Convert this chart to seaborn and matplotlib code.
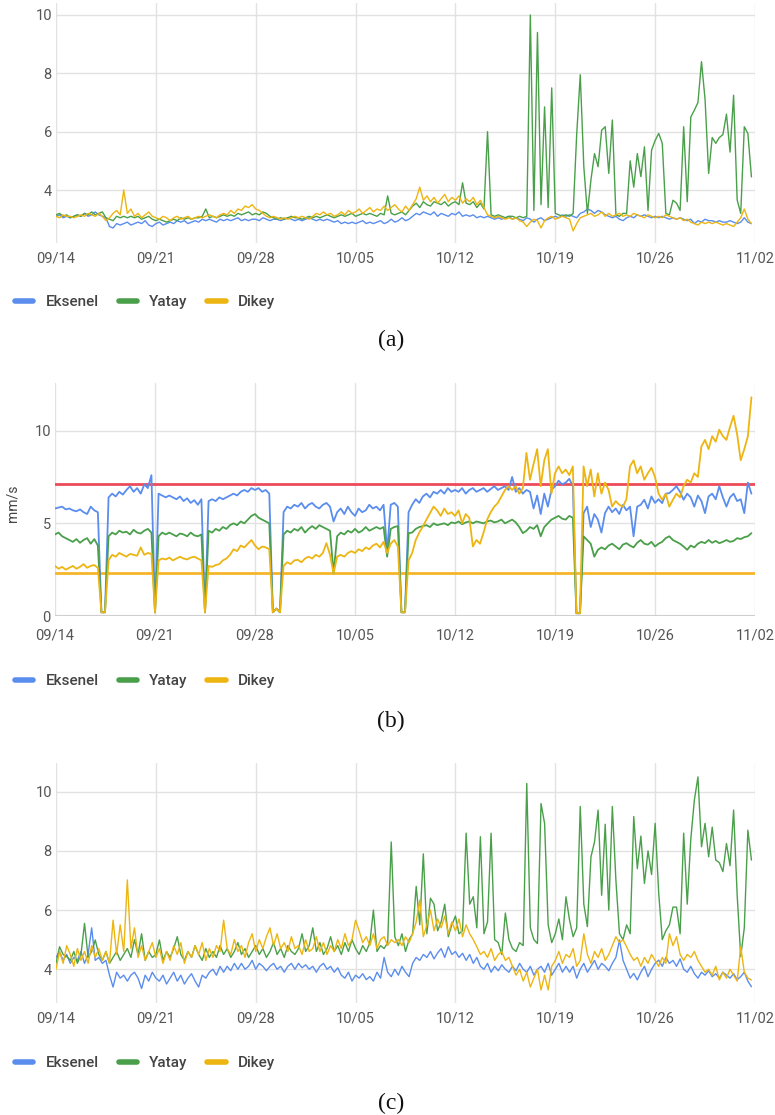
import pandas as pd
import matplotlib
matplotlib.use('Agg')
import matplotlib.pyplot as plt
import matplotlib.dates as mdates
from matplotlib.lines import Line2D
import seaborn as sns

# ---------------- data ----------------
START = '2022-09-14'
END = '2022-11-02'
N_POINTS = 196          # 4 readings per day (every 6 h)
STEP = '6h'
SERIES = ['Eksenel', 'Yatay', 'Dikey']
COLORS = ['#5A8DEE', '#4AA04A', '#EDB512']
CAPTIONS = ['(a)', '(b)', '(c)']
Y_UNIT = 'mm/s'
B_UPPER_LIMIT = 7.1
B_LOWER_LIMIT = 2.3

A_EKSENEL = [
    3.10, 3.15, 3.05, 3.10, 3.05, 3.10, 3.15, 3.10,
    3.20, 3.10, 3.15, 3.25, 3.15, 3.10, 3.05, 2.75,
    2.70, 2.85, 2.80, 2.85, 2.90, 2.80, 2.85, 2.90,
    2.85, 2.95, 2.80, 2.75, 2.85, 2.90, 2.80, 2.85,
    2.90, 2.85, 2.95, 2.90, 2.95, 2.85, 2.90, 2.95,
    2.90, 3.00, 2.95, 3.00, 2.95, 2.90, 3.00, 2.95,
    3.00, 2.95, 3.00, 3.05, 2.95, 3.00, 2.95, 3.00,
    3.00, 2.95, 3.05, 3.00, 2.95, 3.00, 3.00, 2.95,
    3.00, 3.05, 3.00, 2.95, 3.00, 2.95, 3.00, 3.05,
    3.00, 2.95, 3.00, 2.95, 3.00, 2.95, 2.90, 2.95,
    2.85, 2.90, 2.85, 2.90, 2.85, 2.90, 2.95, 2.85,
    2.90, 2.85, 2.90, 2.95, 2.85, 2.90, 3.00, 2.90,
    2.95, 3.05, 2.95, 3.00, 3.10, 3.20, 3.15, 3.25,
    3.20, 3.15, 3.25, 3.10, 3.20, 3.15, 3.10, 3.20,
    3.15, 3.25, 3.10, 3.15, 3.10, 3.15, 3.05, 3.10,
    3.05, 3.10, 3.05, 3.00, 3.05, 3.00, 3.05, 3.10,
    3.00, 3.05, 3.00, 2.95, 3.05, 3.00, 2.90, 3.00,
    3.05, 2.95, 3.00, 3.05, 3.10, 3.05, 3.15, 3.10,
    3.15, 3.10, 3.05, 3.20, 3.25, 3.35, 3.30, 3.20,
    3.30, 3.25, 3.15, 3.10, 3.05, 3.10, 3.00, 2.95,
    3.05, 3.10, 3.05, 3.15, 3.10, 3.15, 3.10, 3.05,
    3.10, 3.05, 3.10, 3.05, 3.00, 3.05, 3.00, 3.05,
    3.00, 2.95, 3.00, 2.85, 2.95, 2.90, 3.00, 2.95,
    2.95, 2.90, 2.95, 2.90, 2.90, 2.95, 2.90, 2.85,
    2.90, 3.05, 2.90, 2.85,
]
A_YATAY = [
    3.15, 3.20, 3.10, 3.15, 3.05, 3.10, 3.15, 3.10,
    3.20, 3.15, 3.25, 3.15, 3.20, 3.25, 3.05, 3.00,
    2.95, 3.10, 3.05, 3.10, 3.05, 3.10, 3.05, 3.10,
    3.00, 3.05, 3.10, 3.00, 2.95, 3.00, 2.95, 2.90,
    2.95, 3.00, 2.95, 3.05, 3.00, 3.05, 3.00, 3.05,
    3.05, 3.10, 3.35, 3.05, 3.10, 3.05, 3.10, 3.15,
    3.10, 3.15, 3.10, 3.20, 3.15, 3.20, 3.25, 3.15,
    3.20, 3.15, 3.25, 3.20, 3.10, 3.05, 3.00, 3.05,
    3.00, 3.05, 3.10, 3.05, 3.05, 3.00, 3.05, 3.10,
    3.05, 3.10, 3.05, 3.10, 3.15, 3.10, 3.05, 3.10,
    3.15, 3.10, 3.15, 3.20, 3.10, 3.15, 3.20, 3.15,
    3.20, 3.15, 3.10, 3.20, 3.15, 3.80, 3.20, 3.15,
    3.20, 3.25, 3.15, 3.30, 3.45, 3.55, 3.40, 3.60,
    3.50, 3.45, 3.60, 3.55, 3.50, 3.60, 3.45, 3.55,
    3.60, 3.50, 4.25, 3.55, 3.50, 3.60, 3.40, 3.55,
    3.35, 6.00, 3.15, 3.10, 3.15, 3.10, 3.05, 3.10,
    3.10, 3.05, 3.10, 3.05, 3.10, 10.00, 3.30, 9.40,
    3.50, 6.85, 3.40, 7.50, 3.20, 3.15, 3.10, 3.15,
    3.10, 3.20, 5.90, 7.95, 4.80, 3.20, 4.35, 5.25,
    4.80, 6.05, 6.17, 4.57, 6.40, 3.15, 3.10, 3.20,
    3.20, 5.00, 4.10, 5.25, 4.46, 5.48, 3.30, 5.37,
    5.70, 5.94, 5.60, 3.20, 3.15, 3.65, 3.55, 3.30,
    6.17, 3.60, 6.50, 6.74, 7.00, 8.40, 7.10, 4.57,
    5.80, 5.60, 5.80, 5.90, 6.60, 5.30, 7.25, 3.66,
    3.20, 6.17, 5.94, 4.45,
]
A_DIKEY = [
    3.10, 3.05, 3.15, 3.10, 3.10, 3.05, 3.10, 3.15,
    3.10, 3.20, 3.15, 3.10, 3.20, 3.10, 2.95, 3.05,
    3.20, 3.30, 3.15, 4.00, 3.20, 3.35, 3.10, 3.20,
    3.05, 3.15, 3.25, 3.10, 3.05, 3.00, 3.10, 3.05,
    2.95, 3.05, 3.10, 3.00, 3.05, 3.10, 3.00, 3.05,
    3.10, 3.05, 3.10, 3.15, 3.10, 3.05, 3.15, 3.20,
    3.15, 3.30, 3.20, 3.35, 3.30, 3.45, 3.40, 3.50,
    3.35, 3.30, 3.20, 3.10, 3.05, 3.10, 3.05, 3.00,
    3.05, 3.00, 3.05, 3.10, 3.05, 3.10, 3.05, 3.00,
    3.10, 3.20, 3.15, 3.25, 3.15, 3.20, 3.10, 3.15,
    3.25, 3.15, 3.30, 3.20, 3.25, 3.35, 3.20, 3.30,
    3.40, 3.25, 3.35, 3.30, 3.45, 3.30, 3.40, 3.50,
    3.35, 3.25, 3.45, 3.30, 3.50, 3.70, 4.10, 3.65,
    3.80, 3.60, 3.75, 3.55, 3.70, 3.85, 3.60, 3.75,
    3.65, 3.80, 3.55, 3.70, 3.60, 3.75, 3.50, 3.65,
    3.40, 3.15, 3.10, 3.05, 3.10, 3.05, 3.00, 3.05,
    3.00, 3.05, 2.95, 2.90, 2.75, 2.90, 3.00, 2.95,
    2.70, 2.95, 3.05, 3.10, 3.00, 3.05, 3.10, 3.05,
    3.00, 2.60, 2.85, 3.05, 3.10, 3.15, 3.20, 3.10,
    3.15, 3.25, 3.10, 3.20, 3.10, 3.15, 3.20, 3.10,
    3.15, 3.10, 3.20, 3.15, 3.10, 3.05, 3.15, 3.10,
    3.05, 3.10, 3.05, 3.15, 3.10, 3.05, 3.00, 3.05,
    2.95, 3.00, 2.90, 2.85, 2.80, 2.90, 2.85, 2.90,
    2.85, 2.90, 2.85, 2.80, 2.85, 2.80, 2.75, 2.90,
    3.05, 3.35, 3.00, 2.85,
]

B_EKSENEL = [
    5.80, 5.85, 5.90, 5.75, 5.80, 5.70, 5.65, 5.75,
    5.60, 5.50, 5.90, 5.70, 5.60, 0.20, 0.20, 6.40,
    6.60, 6.45, 6.70, 6.55, 6.80, 7.00, 6.70, 6.90,
    6.60, 7.10, 6.90, 7.60, 0.20, 6.60, 6.50, 6.40,
    6.50, 6.40, 6.30, 6.45, 6.20, 6.35, 6.10, 6.25,
    6.00, 6.30, 0.20, 6.20, 6.30, 6.20, 6.40, 6.30,
    6.40, 6.50, 6.60, 6.50, 6.70, 6.80, 6.70, 6.90,
    6.80, 6.90, 6.70, 6.80, 6.60, 0.20, 0.40, 0.20,
    5.60, 5.90, 5.80, 6.00, 5.90, 6.10, 5.80, 6.00,
    6.10, 5.90, 5.80, 6.00, 6.10, 5.90, 5.10, 5.60,
    5.80, 5.50, 5.90, 5.60, 5.40, 5.80, 5.60, 5.70,
    6.00, 5.80, 5.90, 5.70, 6.00, 3.50, 6.00, 6.10,
    5.90, 0.20, 0.20, 5.60, 6.00, 6.30, 6.10, 6.45,
    6.60, 6.40, 6.70, 6.60, 6.80, 6.60, 6.90, 6.70,
    6.80, 6.70, 6.90, 6.60, 6.80, 6.90, 6.70, 6.80,
    6.90, 6.70, 6.85, 7.00, 6.80, 6.90, 7.00, 6.80,
    7.50, 6.70, 6.90, 6.60, 6.80, 6.70, 5.80, 6.50,
    5.50, 6.60, 5.90, 6.80, 7.00, 7.30, 7.10, 7.20,
    7.40, 7.00, 0.15, 0.15, 5.55, 5.90, 4.80, 5.50,
    5.20, 4.50, 5.55, 5.90, 5.60, 5.80, 5.50, 6.00,
    5.70, 5.90, 4.30, 5.90, 6.00, 6.27, 5.80, 6.45,
    6.10, 6.30, 6.09, 6.60, 6.63, 6.80, 7.00, 6.70,
    6.27, 6.60, 6.40, 5.90, 6.50, 6.20, 5.55, 6.45,
    6.60, 6.30, 7.00, 6.40, 5.90, 6.40, 6.60, 6.20,
    6.30, 5.55, 7.20, 6.60,
]
B_YATAY = [
    4.40, 4.50, 4.30, 4.20, 4.10, 4.00, 4.15, 3.95,
    4.10, 4.20, 3.90, 4.15, 3.80, 0.20, 0.20, 4.30,
    4.50, 4.40, 4.60, 4.50, 4.55, 4.40, 4.65, 4.50,
    4.45, 4.60, 4.70, 4.50, 0.20, 4.30, 4.50, 4.40,
    4.50, 4.40, 4.30, 4.45, 4.40, 4.30, 4.50, 4.35,
    4.30, 4.40, 0.20, 4.60, 4.50, 4.70, 4.60, 4.80,
    4.70, 4.90, 5.00, 4.90, 5.10, 5.00, 5.20, 5.40,
    5.50, 5.30, 5.20, 5.10, 5.00, 0.20, 0.40, 0.20,
    4.40, 4.60, 4.50, 4.70, 4.60, 4.80, 4.50, 4.70,
    4.85, 4.70, 4.90, 4.80, 4.70, 4.60, 2.30, 4.30,
    4.50, 4.40, 4.60, 4.50, 4.70, 4.50, 4.60, 4.80,
    4.60, 4.70, 4.80, 4.70, 4.80, 3.20, 4.70, 4.80,
    4.85, 0.20, 0.20, 4.47, 4.50, 4.70, 4.80, 4.85,
    4.90, 4.80, 5.00, 4.90, 4.95, 5.00, 4.90, 5.05,
    5.00, 5.10, 4.95, 5.05, 5.10, 5.00, 5.10, 5.05,
    5.00, 5.10, 5.15, 5.05, 5.10, 5.20, 5.00, 5.10,
    5.20, 5.05, 4.80, 4.47, 4.60, 4.80, 4.70, 4.90,
    4.30, 4.80, 5.00, 5.20, 5.30, 5.40, 5.25, 5.20,
    5.40, 5.30, 0.15, 0.15, 4.30, 4.10, 3.90, 3.20,
    3.57, 3.70, 3.60, 3.80, 3.90, 3.75, 3.60, 3.85,
    3.93, 3.80, 3.70, 3.95, 4.10, 3.90, 3.85, 4.00,
    3.75, 3.90, 4.00, 4.20, 4.30, 4.10, 4.00, 3.90,
    3.75, 3.57, 3.80, 3.70, 3.90, 4.00, 3.93, 4.10,
    3.95, 4.05, 3.93, 4.00, 4.10, 4.00, 4.05, 4.20,
    4.15, 4.25, 4.30, 4.47,
]
B_DIKEY = [
    2.70, 2.55, 2.65, 2.50, 2.60, 2.70, 2.55, 2.65,
    2.80, 2.60, 2.70, 2.75, 2.60, 0.20, 0.20, 3.00,
    3.30, 3.20, 3.40, 3.30, 3.20, 3.35, 3.30, 3.25,
    3.70, 3.30, 3.40, 3.35, 0.20, 3.00, 3.10, 3.05,
    3.15, 3.00, 3.10, 3.20, 3.10, 3.05, 3.15, 3.20,
    3.10, 3.00, 0.20, 2.70, 2.65, 2.75, 2.80, 3.00,
    3.10, 3.30, 3.60, 3.50, 3.80, 3.70, 3.90, 4.10,
    3.80, 3.60, 3.75, 3.70, 3.60, 0.20, 0.40, 0.20,
    2.70, 2.90, 2.80, 3.00, 3.03, 2.90, 3.10, 3.20,
    3.10, 3.30, 3.20, 3.40, 3.93, 3.30, 2.30, 3.20,
    3.30, 3.20, 3.40, 3.50, 3.40, 3.60, 3.50, 3.70,
    3.60, 3.80, 3.90, 3.70, 4.00, 3.40, 3.90, 4.10,
    3.75, 0.20, 0.20, 3.00, 3.40, 4.10, 4.50, 4.83,
    5.20, 5.55, 5.90, 5.70, 5.40, 5.80, 5.50, 5.60,
    5.40, 5.70, 5.00, 5.50, 5.30, 3.75, 4.10, 3.90,
    4.50, 5.20, 5.60, 5.90, 6.10, 6.45, 6.80, 7.00,
    6.80, 7.00, 6.60, 6.90, 8.80, 7.35, 8.20, 9.00,
    7.00, 8.40, 9.00, 6.60, 7.70, 8.07, 7.70, 7.90,
    7.60, 8.07, 0.15, 0.15, 8.07, 7.00, 7.90, 6.45,
    7.70, 6.60, 7.20, 6.80, 5.90, 6.20, 6.00, 5.90,
    6.30, 8.07, 8.40, 7.70, 8.07, 7.35, 7.70, 8.00,
    7.50, 6.60, 6.27, 6.60, 5.90, 6.27, 6.60, 6.40,
    7.00, 7.35, 7.20, 7.70, 7.50, 9.15, 9.50, 9.00,
    9.70, 9.40, 10.05, 9.70, 9.50, 10.20, 10.80, 9.80,
    8.40, 9.00, 9.70, 11.80,
]

C_EKSENEL = [
    4.40, 4.60, 4.30, 4.50, 4.20, 4.40, 4.30, 4.60,
    4.20, 4.50, 5.40, 4.30, 4.40, 4.20, 4.30, 3.80,
    3.40, 3.90, 3.70, 3.80, 3.60, 3.80, 3.90, 3.70,
    3.35, 3.80, 3.60, 3.90, 3.70, 3.60, 3.80, 3.50,
    3.70, 3.90, 3.60, 3.80, 3.50, 3.70, 3.85, 3.60,
    3.40, 3.80, 3.70, 3.90, 4.00, 3.80, 4.10, 3.90,
    4.10, 3.95, 4.20, 4.00, 4.20, 4.00, 4.10, 4.30,
    4.00, 4.20, 4.10, 3.95, 4.10, 4.20, 4.00, 4.10,
    3.90, 4.10, 4.20, 4.00, 4.20, 4.05, 4.15, 4.00,
    4.10, 3.90, 4.10, 4.20, 4.00, 4.10, 3.90, 4.05,
    3.80, 3.70, 3.90, 3.60, 3.80, 3.70, 3.85, 3.65,
    3.75, 3.60, 3.90, 3.70, 4.40, 3.90, 3.75, 4.00,
    3.80, 4.10, 3.90, 3.75, 4.20, 4.40, 4.30, 4.50,
    4.40, 4.60, 4.35, 4.55, 4.70, 4.40, 4.76, 4.50,
    4.60, 4.40, 4.54, 4.30, 4.50, 4.20, 4.40, 4.10,
    4.00, 4.20, 3.90, 4.10, 3.95, 4.15, 4.00, 3.90,
    4.10, 3.95, 4.20, 4.00, 3.90, 4.10, 3.80, 4.00,
    4.10, 3.90, 4.20, 3.80, 4.00, 4.20, 3.90, 4.10,
    3.90, 4.10, 3.70, 4.00, 4.20, 3.90, 4.10, 4.30,
    4.00, 4.20, 4.10, 3.95, 4.20, 4.40, 4.99, 4.30,
    4.00, 3.70, 3.86, 3.64, 3.90, 4.10, 3.75, 4.00,
    4.20, 4.31, 4.10, 4.40, 4.20, 4.30, 4.10, 4.35,
    4.00, 3.90, 4.10, 3.85, 3.70, 3.90, 3.80, 3.95,
    3.75, 3.85, 3.70, 3.90, 3.80, 3.70, 3.85, 3.65,
    3.75, 3.90, 3.60, 3.41,
]
C_YATAY = [
    4.20, 4.76, 4.50, 4.43, 4.30, 4.60, 4.20, 4.50,
    5.55, 4.40, 4.60, 4.99, 4.50, 4.30, 4.60, 4.20,
    4.40, 4.60, 4.30, 4.50, 4.70, 4.40, 5.00, 4.50,
    5.20, 4.30, 4.60, 4.40, 4.50, 4.99, 4.30, 4.60,
    4.40, 4.70, 5.10, 4.50, 4.30, 4.60, 4.40, 4.80,
    4.50, 4.30, 4.70, 4.40, 4.60, 4.40, 4.80, 4.50,
    4.70, 4.40, 4.60, 4.90, 4.50, 4.70, 4.40, 4.60,
    4.80, 4.50, 4.70, 4.40, 4.60, 4.90, 4.50, 4.70,
    4.40, 4.80, 4.60, 4.50, 4.70, 5.20, 4.60, 4.80,
    5.40, 4.60, 4.90, 4.50, 4.70, 5.10, 4.60, 4.80,
    4.50, 4.90, 4.60, 5.00, 4.70, 4.50, 4.80, 4.60,
    4.90, 6.00, 4.60, 4.80, 4.70, 4.90, 8.30, 5.10,
    4.80, 5.20, 4.60, 5.00, 5.20, 6.80, 5.50, 7.90,
    5.20, 6.40, 6.20, 5.30, 5.60, 6.20, 5.10, 5.50,
    5.80, 5.20, 5.30, 8.60, 6.20, 6.45, 5.40, 8.48,
    5.20, 5.60, 8.60, 5.00, 4.90, 4.50, 5.90, 5.00,
    4.70, 4.60, 4.90, 4.80, 10.28, 5.40, 5.00, 4.87,
    9.60, 8.93, 5.50, 4.90, 5.20, 5.70, 5.00, 6.45,
    5.66, 5.10, 5.40, 9.50, 6.20, 5.44, 7.80, 8.30,
    9.38, 6.50, 8.90, 6.00, 9.50, 7.00, 5.20, 5.00,
    5.50, 5.20, 9.16, 7.40, 8.50, 6.90, 8.00, 7.20,
    8.93, 6.57, 5.00, 5.30, 5.50, 6.10, 6.10, 5.20,
    8.60, 6.20, 8.40, 9.72, 10.50, 8.14, 8.93, 7.80,
    8.80, 7.69, 7.60, 7.30, 8.25, 7.50, 9.38, 6.50,
    4.43, 5.40, 8.70, 7.69,
]
C_DIKEY = [
    4.00, 4.60, 4.20, 4.80, 4.50, 4.10, 4.70, 4.30,
    4.60, 4.20, 4.80, 4.40, 4.70, 4.30, 4.60, 4.20,
    5.66, 4.50, 5.50, 4.60, 7.02, 4.70, 5.40, 4.40,
    4.80, 4.30, 4.60, 4.90, 4.40, 4.70, 4.20, 4.60,
    4.30, 4.80, 4.50, 4.90, 4.20, 4.60, 4.40, 4.80,
    4.50, 4.90, 4.30, 4.70, 4.40, 4.80, 4.60, 5.66,
    4.70, 4.50, 5.00, 4.60, 4.80, 4.40, 4.90, 5.20,
    4.60, 5.00, 4.70, 5.10, 5.40, 4.80, 5.20, 4.70,
    4.90, 4.60, 5.10, 4.70, 4.80, 4.50, 5.00, 4.60,
    4.70, 5.10, 4.60, 4.90, 4.50, 4.80, 4.60, 5.00,
    4.70, 5.20, 4.80, 5.00, 5.66, 5.30, 4.90, 5.10,
    4.80, 5.20, 4.70, 5.00, 5.10, 4.80, 5.00, 4.90,
    5.00, 4.80, 5.10, 4.90, 5.20, 5.60, 6.34, 5.10,
    5.50, 6.00, 5.30, 5.70, 5.40, 5.80, 5.20, 5.60,
    5.30, 5.70, 5.10, 5.50, 5.20, 5.00, 4.76, 4.50,
    4.60, 4.40, 4.70, 4.30, 4.50, 4.60, 4.30, 4.40,
    4.10, 3.80, 4.00, 3.60, 3.90, 3.40, 3.70, 4.00,
    3.30, 3.80, 3.30, 4.10, 4.30, 4.60, 4.20, 4.50,
    4.40, 4.70, 4.10, 4.30, 5.20, 4.50, 4.20, 4.60,
    4.40, 4.70, 4.30, 4.50, 4.80, 5.10, 4.90, 5.00,
    4.76, 4.50, 4.30, 4.40, 4.10, 4.40, 4.20, 4.50,
    4.30, 4.10, 4.40, 4.20, 5.20, 4.80, 5.10, 4.50,
    4.30, 4.50, 4.40, 4.60, 4.30, 4.10, 3.90, 4.00,
    3.80, 4.10, 3.64, 3.90, 3.70, 4.00, 3.80, 3.60,
    4.76, 3.90, 3.70, 3.64,
]

# ---------------- style ----------------
sns.set_style('white')
plt.rcParams['font.family'] = ['Roboto', 'DejaVu Sans']

W, H = 775, 1115
fig = plt.figure(figsize=(W / 100, H / 100), dpi=100)


def fx(px):
    return px / W


def fy(py):
    return 1 - py / H


palette = dict(zip(SERIES, COLORS))
times = pd.date_range(START, periods=N_POINTS, freq=STEP)
tick_dates = pd.date_range(START, END, freq='7D')


def panel(rect, arrays, ylim, yticks, lw, xpad):
    ax = fig.add_axes(rect)
    df = pd.DataFrame({'time': times, SERIES[0]: arrays[0],
                       SERIES[1]: arrays[1], SERIES[2]: arrays[2]})
    long = df.melt(id_vars='time', var_name='series', value_name='value')
    sns.lineplot(data=long, x='time', y='value', hue='series',
                 hue_order=SERIES, palette=palette, linewidth=lw,
                 legend=False, ax=ax, estimator=None, sort=False)
    ax.set_xlim(pd.Timestamp(START), pd.Timestamp(END))
    ax.set_ylim(*ylim)
    ax.set_xticks(tick_dates)
    ax.xaxis.set_major_formatter(mdates.DateFormatter('%m/%d'))
    ax.set_yticks(yticks)
    ax.set_xlabel('')
    ax.set_ylabel('')
    ax.grid(True, color='#e2e2e2', linewidth=1.0)
    ax.set_axisbelow(True)
    for s in ax.spines.values():
        s.set_visible(False)
    ax.tick_params(axis='both', length=0, labelsize=10.5, colors='#555555')
    ax.tick_params(axis='x', pad=xpad)
    ax.tick_params(axis='y', pad=3)
    return ax


axA = panel([fx(56), fy(243), fx(699), 240 / H],
            [A_EKSENEL, A_YATAY, A_DIKEY], (2.185, 10.41), [4, 6, 8, 10], 1.0, 6)
axB = panel([fx(55), fy(616), fx(700), 233 / H],
            [B_EKSENEL, B_YATAY, B_DIKEY], (0, 12.57), [0, 5, 10], 1.3, 9)
axC = panel([fx(56), fy(1003), fx(699), 240 / H],
            [C_EKSENEL, C_YATAY, C_DIKEY], (2.86, 10.97), [4, 6, 8, 10], 1.0, 6)

# alarm / threshold lines in panel (b)
axB.axhline(B_UPPER_LIMIT, color='#EE4B5A', linewidth=2.0, zorder=1.5)
axB.axhline(B_LOWER_LIMIT, color='#F5B52A', linewidth=2.0, zorder=1.5)
axB.axhline(0, color='#cfcfcf', linewidth=1.5, zorder=1)

fig.text(fx(12), fy(503), Y_UNIT, rotation=90, ha='center', va='center',
         fontsize=10, color='#444444')

handles = [Line2D([], [], color=c, linewidth=4, solid_capstyle='round') for c in COLORS]
for ly in (302, 681, 1063):
    leg = fig.legend(handles, SERIES, loc='center left',
                     bbox_to_anchor=(fx(15), fy(ly)), ncol=3, frameon=False,
                     handlelength=1.2, handletextpad=0.8, columnspacing=1.3,
                     borderpad=0, borderaxespad=0, fontsize=11)
    for t in leg.get_texts():
        t.set_color('#444444')
        t.set_fontweight('medium')

for cap, cy in zip(CAPTIONS, (340, 721, 1103)):
    fig.text(fx(391), fy(cy), cap, ha='center', va='center', fontsize=17,
             family=['Liberation Serif', 'DejaVu Serif'], color='#111111')

fig.savefig('out.png', dpi=100)
